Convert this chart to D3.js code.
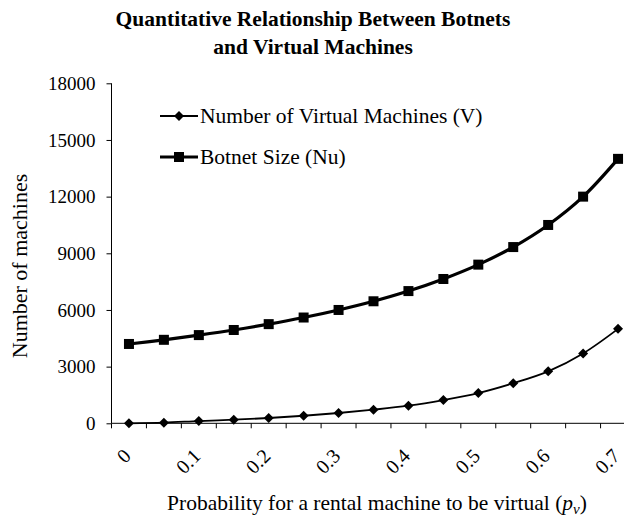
<!DOCTYPE html>
<html><head><meta charset="utf-8">
<script src="https://cdn.jsdelivr.net/npm/d3@7"></script>
<style>
html,body{margin:0;padding:0;background:#fff;}
text{font-family:"Liberation Serif","Times New Roman",serif;fill:#000;}
</style></head>
<body><svg id="c" width="624" height="520"></svg>
<script>
const categories = ["0","0.05","0.1","0.15","0.2","0.25","0.3","0.35","0.4","0.45","0.5","0.55","0.6","0.65","0.7"];
const tickLabels = ["0","0.1","0.2","0.3","0.4","0.5","0.6","0.7"];
const yTicks = [0,3000,6000,9000,12000,15000,18000];
const virtualMachines = [0,35,120,190,280,400,545,720,930,1230,1600,2120,2750,3700,5000];
const botnetSize = [4200,4420,4670,4940,5250,5600,6000,6460,7000,7640,8400,9330,10500,12000,14000];
const seriesNames = ["Number of Virtual Machines (V)","Botnet Size (Nu)"];

(function(){
const svg = d3.select("#c");
const pL = 111.5, pR = 635.5, pT = 83.3, pB = 423.3;

const x = d3.scaleBand().domain(categories).range([pL,pR]).paddingInner(0).paddingOuter(0);
const cx = d => x(d) + x.bandwidth()/2;
const y = d3.scaleLinear().domain([0,18000]).range([pB,pT]);

// Title
svg.append("text").attr("x",313).attr("y",25.5).attr("text-anchor","middle")
  .style("font-weight","bold").style("font-size","21.5px").text("Quantitative Relationship Between Botnets");
svg.append("text").attr("x",313).attr("y",54).attr("text-anchor","middle")
  .style("font-weight","bold").style("font-size","21.5px").text("and Virtual Machines");

// Y axis
const yAxis = svg.append("g").attr("transform",`translate(${pL},0)`)
  .call(d3.axisLeft(y).tickValues(yTicks).tickSize(5).tickPadding(11).tickFormat(d3.format("d")));
yAxis.selectAll("text").style("font-size","19px").style("font-family","Liberation Serif");
yAxis.selectAll("line,path").attr("stroke","#000");
yAxis.select("path").attr("d",`M0,${pT}V${pB}`);

// X axis
const xAxis = svg.append("g").attr("transform",`translate(0,${pB})`);
xAxis.append("line").attr("x1",pL).attr("x2",624).attr("stroke","#000");
const boundaries = categories.map(c => x(c)).concat([pR]);
xAxis.selectAll("line.tk").data(boundaries).join("line").attr("class","tk")
  .attr("x1",d=>d).attr("x2",d=>d).attr("y1",0).attr("y2",5).attr("stroke","#000");
xAxis.selectAll("text.tl").data(tickLabels).join("text").attr("class","tl")
  .attr("transform",d=>`translate(${cx(categories[Math.max(0,categories.indexOf(d))])+3},34) rotate(-45)`)
  .attr("text-anchor","end").style("font-size","20px").text(d=>d);

// Axis titles
svg.append("text").attr("transform","translate(27,266) rotate(-90)").attr("text-anchor","middle")
  .style("font-size","22px").text("Number of machines");
const xt = svg.append("text").attr("x",377).attr("y",510).attr("text-anchor","middle").style("font-size","21.5px");
xt.append("tspan").text("Probability for a rental machine to be virtual (");
xt.append("tspan").style("font-style","italic").text("p");
xt.append("tspan").style("font-style","italic").style("font-size","15px").attr("dy","4").text("v");
xt.append("tspan").attr("dy","-4").text(")");

// Lines
const line = d3.line().x((d,i)=>cx(categories[i])).y(d=>y(d)).curve(d3.curveCatmullRom.alpha(0.5));
svg.append("path").attr("d",line(virtualMachines)).attr("fill","none").attr("stroke","#000").attr("stroke-width",1.8);
svg.append("path").attr("d",line(botnetSize)).attr("fill","none").attr("stroke","#000").attr("stroke-width",3.2);

const diamond = (g,px,py,r) => g.append("path").attr("d",`M${px},${py-r}L${px+r},${py}L${px},${py+r}L${px-r},${py}Z`).attr("fill","#000");
virtualMachines.forEach((v,i)=>diamond(svg,cx(categories[i]),y(v),5));
svg.selectAll("rect.sq").data(botnetSize).join("rect").attr("class","sq")
  .attr("x",(d,i)=>cx(categories[i])-5).attr("y",d=>y(d)-5).attr("width",10).attr("height",10).attr("fill","#000");

// Legend
const lg = svg.append("g");
lg.append("line").attr("x1",160).attr("x2",198).attr("y1",116).attr("y2",116).attr("stroke","#000").attr("stroke-width",1.8);
diamond(lg,179,116,5);
lg.append("text").attr("x",200).attr("y",123).style("font-size","21.5px").text(seriesNames[0]);
lg.append("line").attr("x1",160).attr("x2",198).attr("y1",157).attr("y2",157).attr("stroke","#000").attr("stroke-width",3.2);
lg.append("rect").attr("x",174).attr("y",152).attr("width",10).attr("height",10).attr("fill","#000");
lg.append("text").attr("x",200).attr("y",164).style("font-size","21.5px").text(seriesNames[1]);
})();
</script></body></html>
